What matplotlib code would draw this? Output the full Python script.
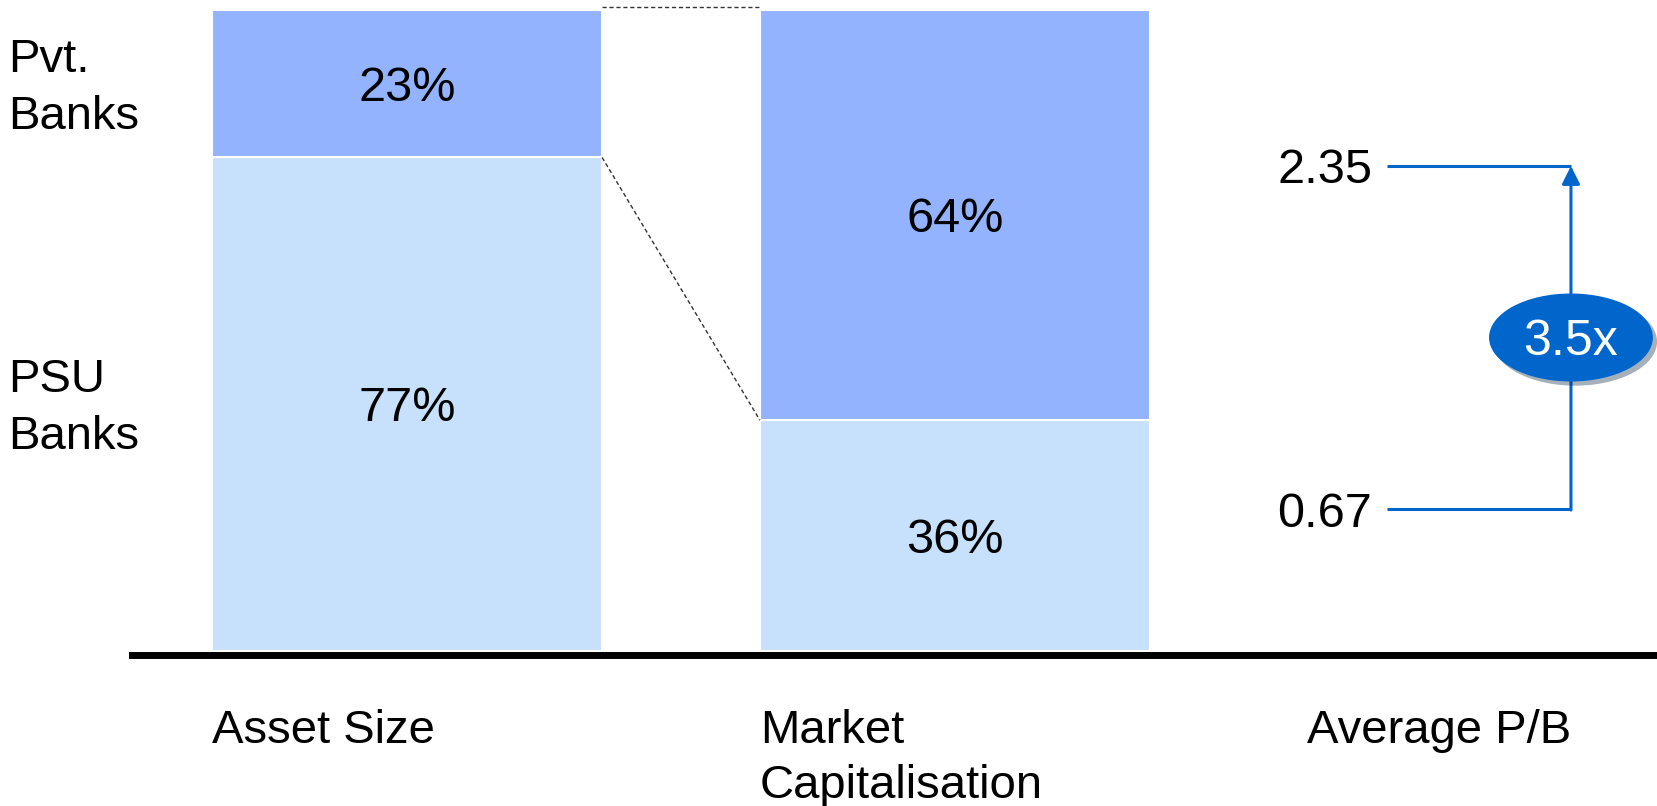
import matplotlib.pyplot as plt
import matplotlib.patheffects as pe
from matplotlib.patches import Ellipse, FancyArrowPatch

plt.rcParams['font.family'] = ['Liberation Sans', 'DejaVu Sans']

# share of the banking sector, PSU vs private banks (%)
metrics = ['Asset Size', 'Market\nCapitalisation']
psu_share = [77, 36]
pvt_share = [23, 64]
segment_labels = ['PSU\nBanks', 'Pvt.\nBanks']

# average price-to-book
pb_title = 'Average P/B'
pb_psu = 0.67
pb_pvt = 2.35

PVT_COLOR = '#93B3FF'
PSU_COLOR = '#C7E0FB'
BLUE = '#0066CC'
FS = 34       # labels
FS_NUM = 35   # numbers
NUDGE = 0.7   # small downward shift for labels inside the bars

fig = plt.figure(figsize=(16.57, 8.06), dpi=100)
ax = fig.add_axes([0, 0.1923, 1, 0.7953])
ax.set_xlim(-0.7427, 2.281)
ax.set_ylim(0, 100)
ax.axis('off')

x = list(range(len(metrics)))
width = 0.712
ax.bar(x, psu_share, width, color=PSU_COLOR, edgecolor='white', linewidth=1.5)
ax.bar(x, pvt_share, width, bottom=psu_share, color=PVT_COLOR,
       edgecolor='white', linewidth=1.5)

for xi, psu, pvt in zip(x, psu_share, pvt_share):
    ax.text(xi, psu / 2 - NUDGE, f'{psu}%', ha='center', va='center', fontsize=FS_NUM)
    ax.text(xi, psu + pvt / 2 - NUDGE, f'{pvt}%', ha='center', va='center',
            fontsize=FS_NUM)

# dashed connectors between the two stacked bars
x_from = x[0] + width / 2
x_to = x[1] - width / 2
dash = dict(color='#333333', lw=1, ls=(0, (3, 2)), clip_on=False)
ax.plot([x_from, x_to], [100.4, 100.4], **dash)
ax.plot([x_from, x_to], [psu_share[0], psu_share[1]], **dash)

# segment names on the left, level with the first bar
ytrans = ax.get_yaxis_transform()
ax.text(0.005, psu_share[0] / 2 - NUDGE, segment_labels[0], transform=ytrans,
        ha='left', va='center', fontsize=FS, linespacing=1.39)
ax.text(0.005, psu_share[0] + pvt_share[0] / 2 - NUDGE, segment_labels[1],
        transform=ytrans, ha='left', va='center', fontsize=FS, linespacing=1.39)

# baseline
ax.axhline(-0.7, xmin=132 / 1657, xmax=1, color='black', lw=5, clip_on=False)

# category labels below the baseline
label_y = -9.0
for xi, name in zip(x, metrics):
    ax.text(xi - width / 2, label_y, name, ha='left', va='top', fontsize=FS,
            linespacing=1.32, clip_on=False)

pb_x = 2
ax.text(pb_x - 0.358, label_y, pb_title, ha='left', va='top', fontsize=FS, clip_on=False)

# P/B comparison on its own value scale
ax2 = ax.twinx()
ax2.set_position(ax.get_position())
ax2.set_ylim(-0.0255, 3.114)
ax2.axis('off')

lx = pb_x - 0.212
rx = pb_x + 0.124
for val in (pb_psu, pb_pvt):
    ax2.plot([lx, rx], [val, val], color=BLUE, lw=2.2, solid_capstyle='butt')
    ax2.text(lx - 0.027, val, f'{val:.2f}', ha='right', va='center_baseline',
             fontsize=FS_NUM)

arrow = FancyArrowPatch((rx, pb_psu - 0.005), (rx, pb_pvt),
                        arrowstyle='-|>,head_length=0.6,head_width=0.3',
                        mutation_scale=18, color=BLUE, lw=2.2,
                        shrinkA=0, shrinkB=0)
ax2.add_patch(arrow)

ratio = pb_pvt / pb_psu
mid = (pb_psu + pb_pvt) / 2
badge = Ellipse((rx, mid), width=0.299, height=0.431,
                facecolor=BLUE, edgecolor='none', zorder=5,
                path_effects=[pe.SimplePatchShadow(offset=(3, -3), alpha=0.35),
                              pe.Normal()])
ax2.add_patch(badge)
ax2.text(rx, mid, f'{ratio:.1f}x', ha='center', va='center_baseline',
         fontsize=36, color='white', zorder=6)

fig.savefig('out.png', dpi=100, facecolor='white')
